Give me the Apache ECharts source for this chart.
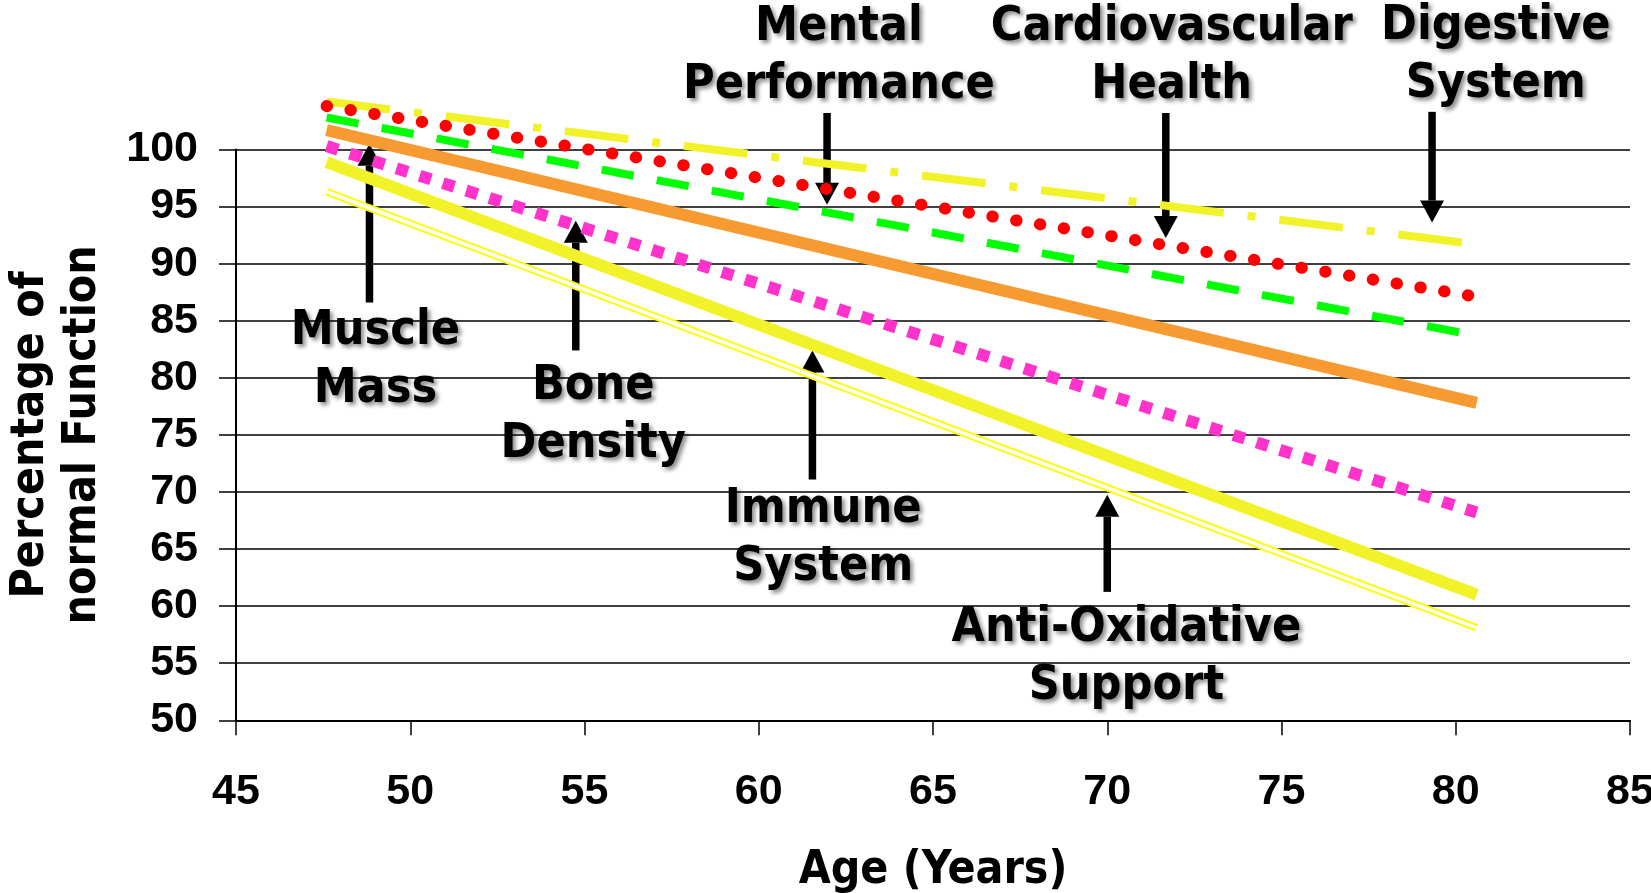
<!DOCTYPE html>
<html>
<head>
<meta charset="utf-8">
<title>Percentage of normal function by age</title>
<script src="https://cdn.jsdelivr.net/npm/echarts@6/dist/echarts.min.js"></script>
<style>
  html, body { margin: 0; padding: 0; background: #fff; }
  #chart { width: 1651px; height: 893px; }
</style>
</head>
<body>
<div id="chart"></div>
<script>
// ages where every line starts and ends
const ages = [47.6, 80.6]

// percentage of normal function at those ages
const digestive = [104.2, 91.7]
const cardio = [103.8, 87.1]
const mental = [102.8, 83.7]
const muscle = [101.7, 77.8]
const bone = [100.3, 68.2]
const immune = [98.9, 61.0]
const antiOx = [96.3, 58.1]

// annotations (data coordinates)
const noteText = ['Muscle\nMass', 'Bone\nDensity', 'Immune\nSystem', 'Anti-Oxidative\nSupport',
  'Mental\nPerformance', 'Cardiovascular\nHealth', 'Digestive\nSystem']
const noteAge = [49.0, 55.25, 61.85, 70.55, 62.3, 71.85, 81.15]
const noteVal = [81.5, 76.7, 65.9, 55.5, 108.1, 108.1, 108.2]
const arrowAge = [48.83, 54.75, 61.54, 70.0, 61.96, 71.68, 79.32]
const arrowTail = [86.6, 82.4, 71.1, 61.25, 103.2, 103.2, 103.3]
const arrowTip = [100.5, 93.75, 82.4, 69.75, 95.15, 92.25, 93.6]

const noteFont = 'bold 48px "DejaVu Sans Condensed", "DejaVu Sans", sans-serif'

function pts (vals) {
  return ages.map((a, i) => [a, vals[i]])
}

function lineSeries (name, vals, color, width, type, cap) {
  return {
    name: name,
    type: 'line',
    data: pts(vals),
    symbol: 'none',
    silent: true,
    clip: false,
    animation: false,
    lineStyle: { color: color, width: width, type: type, cap: cap || 'butt' }
  }
}

let chart = echarts.init(document.getElementById('chart'))

let option = {
  backgroundColor: '#fff',
  animation: false,
  grid: {
    left: 236,
    right: 21,
    top: 149.5,
    bottom: 172.7,
    containLabel: false,
    outerBoundsMode: 'none'
  },
  xAxis: {
    type: 'value',
    min: 45,
    max: 85,
    interval: 5,
    name: 'Age (Years)',
    nameLocation: 'middle',
    nameGap: 128,
    nameTextStyle: { fontFamily: '"DejaVu Sans Condensed", "DejaVu Sans"', fontWeight: 'bold', fontSize: 46, color: '#000' },
    axisLine: { onZero: false, lineStyle: { color: '#000', width: 2 } },
    axisTick: { length: 15, lineStyle: { color: '#000', width: 1.5 } },
    axisLabel: { fontFamily: 'Liberation Sans', fontWeight: 'bold', fontSize: 43, color: '#000', margin: 50 },
    splitLine: { show: false }
  },
  yAxis: {
    type: 'value',
    min: 50,
    max: 100,
    interval: 5,
    name: 'Percentage of\nnormal Function',
    nameLocation: 'middle',
    nameGap: 127,
    nameTextStyle: { fontFamily: '"DejaVu Sans Condensed", "DejaVu Sans"', fontWeight: 'bold', fontSize: 46, lineHeight: 52, color: '#000' },
    axisLine: { show: true, lineStyle: { color: '#000', width: 2 } },
    axisTick: { show: true, length: 17, lineStyle: { color: '#000', width: 1.5 } },
    axisLabel: { fontFamily: 'Liberation Sans', fontWeight: 'bold', fontSize: 43, color: '#000', margin: 38 },
    splitLine: { show: true, lineStyle: { color: '#000', width: 1.5 } }
  },
  series: [
    lineSeries('Anti-Oxidative Support', antiOx, '#ffff00', 7.5, 'solid'),
    lineSeries('Anti-Oxidative Support core', antiOx, '#ffffff', 3.5, 'solid'),
    lineSeries('Immune System', immune, '#f2f22a', 12, 'solid'),
    lineSeries('Bone Density', bone, '#ff33cc', 12, [12, 12.4]),
    lineSeries('Muscle Mass', muscle, '#f79a32', 12, 'solid'),
    lineSeries('Digestive System', digestive, '#f2f22a', 8, [64, 24, 8, 24]),
    lineSeries('Mental Performance', mental, '#00ff00', 8, [32.5, 23.5]),
    lineSeries('Cardiovascular Health', cardio, '#ff0000', 12, [0.5, 23.6], 'round'),
    {
      name: 'arrows',
      type: 'custom',
      silent: true,
      data: arrowAge.map((a, i) => [a, arrowTail[i], arrowTip[i]]),
      renderItem: function (params, api) {
        const p0 = api.coord([api.value(0), api.value(1)])
        const p1 = api.coord([api.value(0), api.value(2)])
        const dir = p1[1] > p0[1] ? 1 : -1
        const headLen = 22
        const base = p1[1] - dir * headLen
        return {
          type: 'group',
          children: [
            {
              type: 'rect',
              shape: { x: p0[0] - 3.75, y: Math.min(p0[1], base), width: 7.5, height: Math.abs(base - p0[1]) },
              style: { fill: '#000' }
            },
            {
              type: 'polygon',
              shape: { points: [[p1[0] - 12, base], [p1[0] + 12, base], [p1[0], p1[1]]] },
              style: { fill: '#000' }
            }
          ]
        }
      }
    },
    {
      name: 'notes',
      type: 'custom',
      silent: true,
      data: noteAge.map((a, i) => [a, noteVal[i]]),
      renderItem: function (params, api) {
        const p = api.coord([api.value(0), api.value(1)])
        return {
          type: 'text',
          x: p[0],
          y: p[1],
          style: {
            text: noteText[params.dataIndex],
            font: noteFont,
            fill: '#000',
            align: 'center',
            verticalAlign: 'middle',
            lineHeight: 58,
            textShadowColor: 'rgba(0,0,0,0.45)',
            textShadowBlur: 4,
            textShadowOffsetX: 3,
            textShadowOffsetY: 3
          }
        }
      }
    }
  ]
}

chart.setOption(option)
</script>
</body>
</html>
